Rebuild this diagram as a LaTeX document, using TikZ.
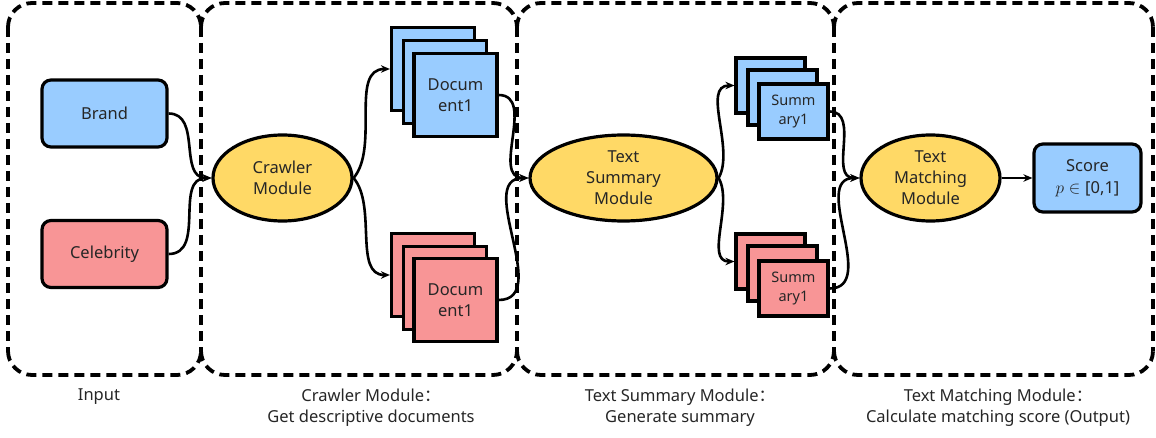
\documentclass[tikz,border=0pt]{standalone}
\usepackage{fontspec}
\setmainfont{Noto Sans}
\newfontfamily\cjk{Noto Sans CJK SC}
\usetikzlibrary{shapes.geometric,arrows.meta}
\definecolor{bl}{HTML}{99CCFF}
\definecolor{pk}{HTML}{F89596}
\definecolor{yl}{HTML}{FFD966}
\definecolor{tx}{HTML}{262626}
\begin{document}
\begin{tikzpicture}[x=1pt,y=1pt,
  region/.style={draw,line width=3.8pt,dash pattern=on 10pt off 6pt,rounded corners=24pt},
  inbox/.style={draw,line width=3.2pt,rounded corners=9pt,minimum width=125pt,minimum height=67pt,inner sep=0pt,text=tx,font=\fontsize{16.5}{19}\selectfont},
  module/.style={draw,ellipse,line width=3.2pt,fill=yl,minimum height=86pt,inner sep=0pt,align=center,text=tx,font=\fontsize{16.5}{21}\selectfont},
  docbox/.style={draw,line width=3.2pt,minimum width=83pt,minimum height=83pt,inner sep=0pt,align=center,text=tx,font=\fontsize{16.5}{21}\selectfont},
  sumbox/.style={draw,line width=3.2pt,minimum width=69pt,minimum height=55pt,inner sep=0pt,align=center,text=tx,font=\fontsize{14.5}{19}\selectfont},
  conn/.style={line width=2.6pt,-{Stealth[length=9pt,width=7.5pt]}},
  caption/.style={align=center,text=tx,font=\fontsize{16.5}{21}\selectfont}
]
\useasboundingbox (0,0) rectangle (1156,-438);

% regions: tops and bottoms with rounded corners, shared sides drawn once
\foreach \xa/\xb in {8/201, 201/517, 517/834, 834/1153}{
  \draw[region] (\xa,-27) |- (\xb,-3) -- (\xb,-27);
  \draw[region] (\xa,-351) |- (\xb,-375) -- (\xb,-351);
}
\foreach \xa in {8,201,517,834,1153}{
  \draw[region] (\xa,-27) -- (\xa,-351);
}

% inputs
\node[inbox,fill=bl] (brand) at (104.5,-113.5) {Brand};
\node[inbox,fill=pk] (celeb) at (104.5,-254) {Celebrity};

% modules
\node[module,minimum width=139pt] (crawler) at (282.5,-178) {Crawler\\Module};
\node[module,minimum width=187pt] (summ) at (623.5,-178) {Text\\Summary\\Module};
\node[module,minimum width=139pt] (match) at (930.5,-178) {Text\\Matching\\Module};

% document stacks
\node[docbox,fill=bl] (db1) at (433,-69) {};
\node[docbox,fill=bl] (db2) at (445,-82) {};
\node[docbox,fill=bl] (db3) at (455.5,-95) {Docum\\ent1};
\node[docbox,fill=pk] (dp1) at (433,-275) {};
\node[docbox,fill=pk] (dp2) at (445,-288) {};
\node[docbox,fill=pk] (dp3) at (455.5,-300) {Docum\\ent1};

% summary stacks
\node[sumbox,fill=bl] (sb1) at (770.5,-85.5) {};
\node[sumbox,fill=bl] (sb2) at (782.5,-97.5) {};
\node[sumbox,fill=bl] (sb3) at (793.5,-111.5) {Summ\\ary1};
\node[sumbox,fill=pk] (sp1) at (770.5,-261.5) {};
\node[sumbox,fill=pk] (sp2) at (782.5,-273.5) {};
\node[sumbox,fill=pk] (sp3) at (793.5,-288.5) {Summ\\ary1};

% score
\node[inbox,fill=bl,minimum width=107pt,minimum height=68pt,align=center,font=\fontsize{16.5}{22}\selectfont] (score) at (1087.5,-178) {Score\\$p\in{}$[0,1]};

% connectors
\draw[conn] (brand.east) to[out=0,in=180,looseness=1.1] (crawler.west);
\draw[conn] (celeb.east) to[out=0,in=180,looseness=1.1] (crawler.west);
\draw[conn] (crawler.east) to[out=50,in=180,looseness=0.9] (db1.west);
\draw[conn] (crawler.east) to[out=-50,in=180,looseness=0.9] (dp1.west);
\draw[conn] (db3.east) to[out=0,in=180,looseness=1.1] (summ.west);
\draw[conn] (dp3.east) to[out=0,in=180,looseness=1.1] (summ.west);
\draw[conn] (summ.east) to[out=60,in=180,looseness=0.9] (sb1.west);
\draw[conn] (summ.east) to[out=-60,in=180,looseness=0.9] (sp1.west);
\draw[conn] (sb3.east) to[out=0,in=180,looseness=1.1] (match.west);
\draw[conn] (sp3.east) to[out=0,in=180,looseness=1.1] (match.west);
\draw[conn] (match.east) -- (score.west);

% captions
\node[caption] (c1) at (99,-397) {Input};
\node[caption] (c2) at (371,-407.5) {Crawler Module{\cjk ：}\\Get descriptive documents};
\node[caption] (c3) at (680,-407.5) {Text Summary Module{\cjk ：}\\Generate summary};
\node[caption] (c4) at (998,-407.5) {Text Matching Module{\cjk ：}\\Calculate matching score (Output)};
\end{tikzpicture}
\end{document}
